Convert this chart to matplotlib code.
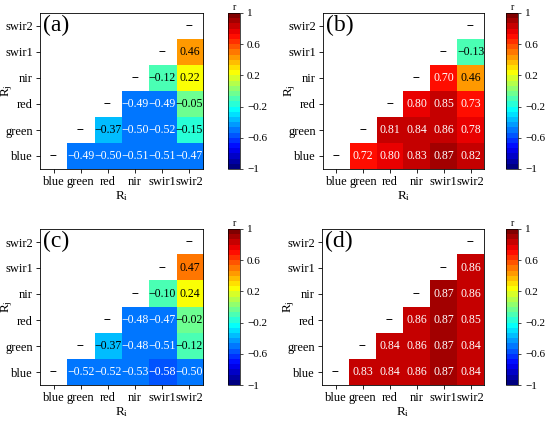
import numpy as np
import matplotlib
matplotlib.use("Agg")
import matplotlib.pyplot as plt
from matplotlib.colors import Normalize, LinearSegmentedColormap

plt.rcParams["font.family"] = ["Liberation Serif", "DejaVu Serif"]
plt.rcParams["mathtext.fontset"] = "custom"
plt.rcParams["mathtext.rm"] = "Liberation Serif"
plt.rcParams["mathtext.it"] = "Liberation Serif:italic"

bands = ["blue", "green", "red", "nir", "swir1", "swir2"]
panel_tags = ["(a)", "(b)", "(c)", "(d)"]

# upper triangle, one row per R_j (blue..swir1), values for R_i to the right of diagonal
vals_a = [
    [-0.49, -0.50, -0.51, -0.51, -0.47],
    [-0.37, -0.50, -0.52, -0.15],
    [-0.49, -0.49, -0.05],
    [-0.12, 0.22],
    [0.46],
]
vals_b = [
    [0.72, 0.798, 0.83, 0.87, 0.82],
    [0.81, 0.84, 0.86, 0.78],
    [0.798, 0.85, 0.73],
    [0.70, 0.46],
    [-0.13],
]
vals_c = [
    [-0.52, -0.52, -0.53, -0.58, -0.50],
    [-0.37, -0.48, -0.51, -0.12],
    [-0.48, -0.47, -0.02],
    [-0.10, 0.24],
    [0.47],
]
vals_d = [
    [0.83, 0.84, 0.86, 0.87, 0.84],
    [0.84, 0.86, 0.87, 0.84],
    [0.86, 0.87, 0.85],
    [0.87, 0.86],
    [0.86],
]
cbar_ticks = [-1, -0.6, -0.2, 0.2, 0.6, 1]

W, H = 550, 423
# pixel boxes (left, top, right, bottom) for heatmap and colorbar
boxes = [
    ((40, 13, 203, 169), (228, 13, 240, 169)),
    ((323, 13, 484, 169), (506, 13, 518, 169)),
    ((40, 229, 203, 385), (228, 229, 240, 385)),
    ((322, 229, 484, 385), (506, 229, 518, 385)),
]


def frac(box):
    l, t, r, b = box
    return [l / W, (H - b) / H, (r - l) / W, (b - t) / H]


def fmt(v):
    return f"{v:.2f}".replace("-", "\u2212")


# matlab-style jet, 30 levels
jet_dict = {
    "red": [(0, 0, 0), (0.375, 0, 0), (0.625, 1, 1), (0.875, 1, 1), (1, 0.5, 0.5)],
    "green": [(0, 0, 0), (0.125, 0, 0), (0.375, 1, 1), (0.625, 1, 1), (0.875, 0, 0), (1, 0, 0)],
    "blue": [(0, 0.5, 0.5), (0.125, 1, 1), (0.375, 1, 1), (0.625, 0, 0), (1, 0, 0)],
}
cmap = LinearSegmentedColormap("mjet", jet_dict, N=30)
cmap.set_bad("white")
norm = Normalize(-1, 1)

fig = plt.figure(figsize=(W / 100, H / 100), dpi=100)

for tag, vals, (hbox, cbox) in zip(panel_tags, [vals_a, vals_b, vals_c, vals_d], boxes):
    n = len(bands)
    grid = np.full((n, n), np.nan)
    for j, row in enumerate(vals):
        for k, v in enumerate(row):
            grid[j, j + 1 + k] = v
    ax = fig.add_axes(frac(hbox))
    im = ax.imshow(np.ma.masked_invalid(grid), cmap=cmap, norm=norm,
                   origin="lower", aspect="auto")
    for j in range(n):
        ax.text(j, j, "--", ha="center", va="center", fontsize=8.5, color="black")
        for i in range(j + 1, n):
            v = grid[j, i]
            c = "white" if (v < -0.4 or v > 0.6) else "black"
            ax.text(i, j, fmt(v), ha="center", va="center", fontsize=8.5, color=c)
    ax.set_xticks(range(n))
    ax.set_xticklabels(bands, fontsize=9)
    ax.set_yticks(range(n))
    ax.set_yticklabels(bands, fontsize=9)
    ax.tick_params(length=3, width=0.6, pad=2)
    ax.set_xlim(-0.5, n - 0.5)
    ax.set_ylim(-0.5, n - 0.5)
    ax.set_xlabel(r"R$_{\mathrm{i}}$", fontsize=9.5, labelpad=1)
    ax.set_ylabel(r"R$_{\mathrm{j}}$", fontsize=9.5)
    ax.yaxis.set_label_coords(-0.155, 0.5)
    for s in ax.spines.values():
        s.set_linewidth(0.6)
    ax.text(0.02, 0.985, tag, transform=ax.transAxes, ha="left", va="top", fontsize=17)

    cax = fig.add_axes(frac(cbox))
    cb = fig.colorbar(im, cax=cax, ticks=cbar_ticks)
    cb.ax.set_yticklabels([f"{t:g}".replace("-", "\u2212") for t in cbar_ticks], fontsize=8)
    cb.ax.tick_params(length=2, width=0.5, pad=3)
    cb.outline.set_linewidth(0.5)
    cax.set_title("r", fontsize=7, pad=2)

fig.savefig("out.png", dpi=100)
